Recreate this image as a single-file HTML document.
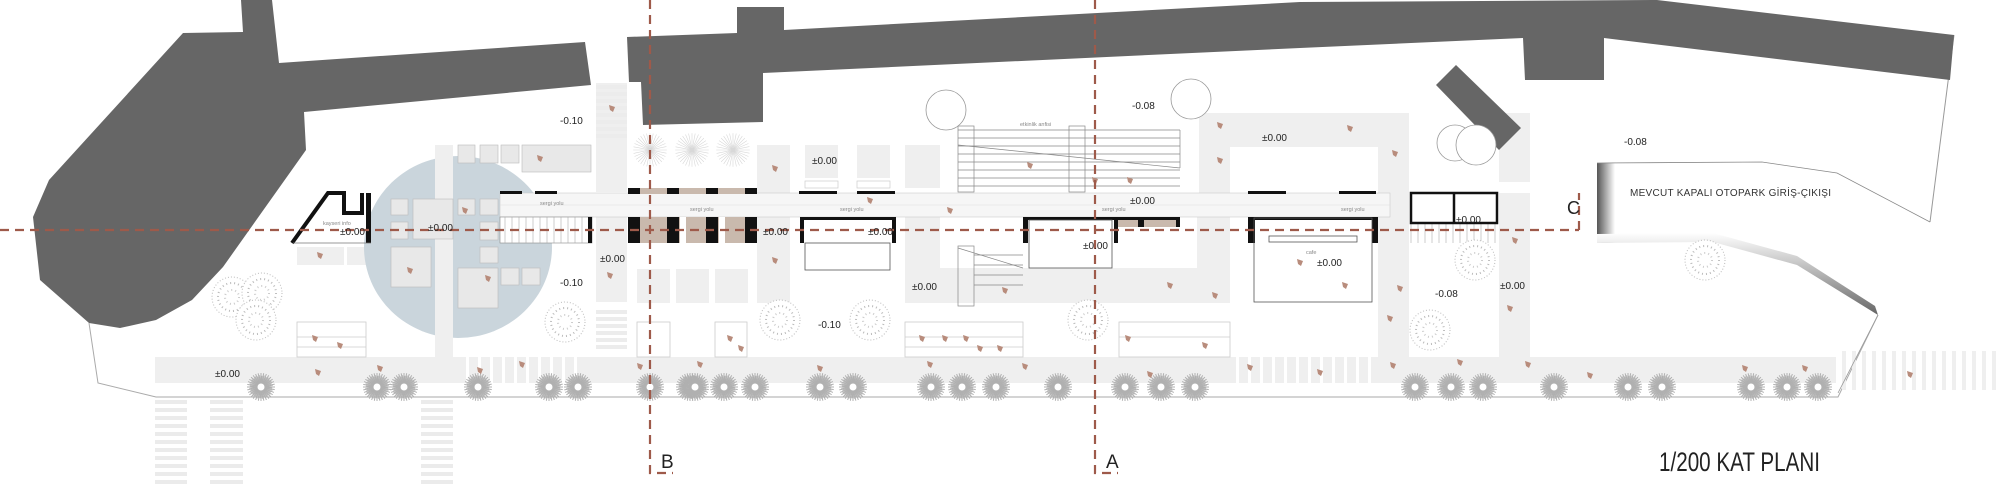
<!DOCTYPE html>
<html><head><meta charset="utf-8"><style>
html,body{margin:0;padding:0;background:#fff;}
svg{display:block;}
text{font-family:"Liberation Sans",sans-serif;}
</style></head><body>
<svg width="2000" height="493" viewBox="0 0 2000 493" xmlns="http://www.w3.org/2000/svg">
<defs>
<linearGradient id="gl" x1="0" x2="1" y1="0" y2="0"><stop offset="0" stop-color="#555"/><stop offset="1" stop-color="#fff"/></linearGradient>
<linearGradient id="gb" x1="0" x2="0" y1="0" y2="1"><stop offset="0" stop-color="#fff"/><stop offset="1" stop-color="#666"/></linearGradient>
<path id="sk" d="M-14 0L14 0M-12.9 -5.4L12.9 5.4M-9.9 -9.9L9.9 9.9M-5.4 -12.9L5.4 12.9M0 -14L0 14M5.4 -12.9L-5.4 12.9M9.9 -9.9L-9.9 9.9M12.9 -5.4L-12.9 5.4"/>
<g id="tr"><g stroke="#b0b0b0" stroke-width="1"><use href="#sk"/><use href="#sk" transform="rotate(11)"/><use href="#sk" transform="rotate(5) scale(0.8)"/><use href="#sk" transform="rotate(16) scale(0.85)"/></g><circle r="3.5" fill="#fff"/></g>
<g id="sp"><circle r="20" fill="#fff" stroke="#bbb" stroke-dasharray="1 2"/><circle r="14" fill="none" stroke="#bbb" stroke-dasharray="1 3" stroke-width="2"/><circle r="7" fill="none" stroke="#ccc" stroke-dasharray="1 3" stroke-width="2"/></g>
<g id="st"><g stroke="#d8d8d8" stroke-width="0.5"><use href="#sk" transform="scale(1.2)"/><use href="#sk" transform="rotate(11) scale(1.2)"/></g></g>
<g id="pp"><path d="M-3 -3 L3 -1 L1 4 L-2 2Z" fill="#b88c7c"/></g>
</defs>

<polyline points="89,323 98,383 156,397 1838,397 1878,315" fill="none" stroke="#aaa" stroke-width="1"/>
<polyline points="1930,222 1954,35" fill="none" stroke="#999" stroke-width="1"/>

<g fill="#efefef">
<rect x="155" y="357" width="1681" height="26"/>
<rect x="435" y="145" width="18" height="238"/>
<rect x="596" y="83" width="31" height="109"/>
<rect x="596" y="217" width="31" height="85"/>
<rect x="1199" y="113" width="210" height="34"/>
<rect x="1199" y="113" width="31" height="189"/>
<rect x="1378" y="113" width="31" height="270"/>
<rect x="905" y="217" width="325" height="86"/>
<rect x="1499" y="113" width="31" height="69"/>
<rect x="1499" y="193" width="31" height="164"/>
<rect x="297" y="247" width="47" height="18"/><rect x="347" y="247" width="37" height="18"/>
<rect x="757" y="145" width="33" height="158"/><rect x="805" y="145" width="33" height="33"/><rect x="857" y="145" width="33" height="33"/><rect x="905" y="145" width="35" height="43"/>
<rect x="637" y="269" width="33" height="34"/><rect x="676" y="269" width="33" height="34"/><rect x="715" y="269" width="33" height="34"/>
</g>
<rect x="940" y="217" width="257" height="51" fill="#fff"/>
<g fill="none" stroke="#ccc" stroke-width="0.7"><rect x="805" y="181" width="33" height="7"/><rect x="857" y="181" width="33" height="7"/></g>

<ellipse cx="458" cy="247" rx="94" ry="91" fill="#cad5dc"/>
<rect x="435" y="145" width="18" height="238" fill="#efefef"/>
<g fill="#e8e8e8" stroke="#bbb" stroke-width="0.6">
<rect x="391" y="199" width="17" height="16"/><rect x="413" y="199" width="40" height="40"/><rect x="391" y="222" width="17" height="17"/>
<rect x="458" y="199" width="17" height="16"/><rect x="480" y="199" width="18" height="16"/><rect x="480" y="222" width="18" height="18"/><rect x="480" y="247" width="18" height="16"/>
<rect x="391" y="247" width="40" height="40"/><rect x="458" y="268" width="40" height="40"/><rect x="501" y="268" width="18" height="17"/><rect x="522" y="268" width="18" height="17"/>
<rect x="458" y="145" width="17" height="18"/><rect x="480" y="145" width="18" height="18"/><rect x="501" y="145" width="18" height="18"/><rect x="522" y="145" width="69" height="27"/>
</g>

<g fill="#ececec">
<rect x="596" y="85" width="31" height="4"/><rect x="596" y="92" width="31" height="4"/><rect x="596" y="99" width="31" height="4"/><rect x="596" y="106" width="31" height="4"/><rect x="596" y="113" width="31" height="4"/><rect x="596" y="120" width="31" height="4"/><rect x="596" y="127" width="31" height="4"/><rect x="596" y="134" width="31" height="4"/>
<rect x="596" y="310" width="31" height="4"/><rect x="596" y="317" width="31" height="4"/><rect x="596" y="324" width="31" height="4"/><rect x="596" y="331" width="31" height="4"/><rect x="596" y="338" width="31" height="4"/><rect x="596" y="345" width="31" height="4"/>
</g>
<g fill="#ebebeb">
<rect x="155" y="400" width="32" height="4"/><rect x="155" y="408" width="32" height="4"/><rect x="155" y="416" width="32" height="4"/><rect x="155" y="424" width="32" height="4"/><rect x="155" y="432" width="32" height="4"/><rect x="155" y="440" width="32" height="4"/><rect x="155" y="448" width="32" height="4"/><rect x="155" y="456" width="32" height="4"/><rect x="155" y="464" width="32" height="4"/><rect x="155" y="472" width="32" height="4"/><rect x="155" y="480" width="32" height="4"/>
<rect x="210" y="400" width="33" height="4"/><rect x="210" y="408" width="33" height="4"/><rect x="210" y="416" width="33" height="4"/><rect x="210" y="424" width="33" height="4"/><rect x="210" y="432" width="33" height="4"/><rect x="210" y="440" width="33" height="4"/><rect x="210" y="448" width="33" height="4"/><rect x="210" y="456" width="33" height="4"/><rect x="210" y="464" width="33" height="4"/><rect x="210" y="472" width="33" height="4"/><rect x="210" y="480" width="33" height="4"/>
<rect x="421" y="400" width="32" height="4"/><rect x="421" y="408" width="32" height="4"/><rect x="421" y="416" width="32" height="4"/><rect x="421" y="424" width="32" height="4"/><rect x="421" y="432" width="32" height="4"/><rect x="421" y="440" width="32" height="4"/><rect x="421" y="448" width="32" height="4"/><rect x="421" y="456" width="32" height="4"/><rect x="421" y="464" width="32" height="4"/><rect x="421" y="472" width="32" height="4"/><rect x="421" y="480" width="32" height="4"/>
</g>
<g fill="#fff">
<rect x="466" y="357" width="3" height="26"/><rect x="478" y="357" width="3" height="26"/><rect x="490" y="357" width="3" height="26"/><rect x="502" y="357" width="3" height="26"/><rect x="514" y="357" width="3" height="26"/><rect x="526" y="357" width="3" height="26"/><rect x="538" y="357" width="3" height="26"/><rect x="550" y="357" width="3" height="26"/><rect x="562" y="357" width="3" height="26"/><rect x="574" y="357" width="3" height="26"/>
<rect x="1236" y="357" width="3" height="26"/><rect x="1248" y="357" width="3" height="26"/><rect x="1260" y="357" width="3" height="26"/><rect x="1272" y="357" width="3" height="26"/><rect x="1284" y="357" width="3" height="26"/><rect x="1296" y="357" width="3" height="26"/><rect x="1308" y="357" width="3" height="26"/><rect x="1320" y="357" width="3" height="26"/><rect x="1332" y="357" width="3" height="26"/><rect x="1344" y="357" width="3" height="26"/><rect x="1356" y="357" width="3" height="26"/><rect x="1368" y="357" width="3" height="26"/>
</g>
<g fill="#efefef">
<rect x="1842" y="351" width="4" height="39"/><rect x="1852" y="351" width="4" height="39"/><rect x="1862" y="351" width="4" height="39"/><rect x="1872" y="351" width="4" height="39"/><rect x="1882" y="351" width="4" height="39"/><rect x="1892" y="351" width="4" height="39"/><rect x="1902" y="351" width="4" height="39"/><rect x="1912" y="351" width="4" height="39"/><rect x="1922" y="351" width="4" height="39"/><rect x="1932" y="351" width="4" height="39"/><rect x="1942" y="351" width="4" height="39"/><rect x="1952" y="351" width="4" height="39"/><rect x="1962" y="351" width="4" height="39"/><rect x="1972" y="351" width="4" height="39"/><rect x="1982" y="351" width="4" height="39"/><rect x="1992" y="351" width="4" height="39"/>
</g>

<g fill="none" stroke="#ccc" stroke-width="0.8">
<rect x="297" y="322" width="69" height="35"/><line x1="297" y1="337" x2="366" y2="337"/><line x1="297" y1="347" x2="366" y2="347"/>
<rect x="905" y="322" width="118" height="35"/><line x1="905" y1="337" x2="1023" y2="337"/><line x1="905" y1="347" x2="1023" y2="347"/>
<rect x="1119" y="322" width="111" height="35"/><line x1="1119" y1="337" x2="1230" y2="337"/>
<rect x="715" y="322" width="32" height="35"/><rect x="637" y="322" width="33" height="35"/>
</g>

<g stroke="#888" stroke-width="0.7" fill="none">
<line x1="958" y1="130" x2="1180" y2="130"/><line x1="958" y1="138" x2="1180" y2="138"/><line x1="958" y1="146" x2="1180" y2="146"/><line x1="958" y1="154" x2="1180" y2="154"/><line x1="958" y1="162" x2="1180" y2="162"/><line x1="958" y1="170" x2="1180" y2="170"/><line x1="958" y1="178" x2="1180" y2="178"/><line x1="958" y1="186" x2="1180" y2="186"/>
<line x1="1180" y1="130" x2="1180" y2="168"/><line x1="958" y1="145" x2="1180" y2="168"/>
<rect x="958" y="126" width="16" height="66"/><rect x="1069" y="126" width="16" height="66"/>
<rect x="958" y="246" width="16" height="60"/><line x1="958" y1="248" x2="1023" y2="268"/>
<line x1="974" y1="255" x2="1023" y2="255"/><line x1="974" y1="265" x2="1023" y2="265"/><line x1="974" y1="275" x2="1023" y2="275"/><line x1="974" y1="285" x2="1023" y2="285"/>
</g>

<rect x="500" y="193" width="890" height="24" fill="#f6f6f6" stroke="#ccc" stroke-width="0.6"/>
<line x1="500" y1="205" x2="1390" y2="205" stroke="#ddd" stroke-width="0.6"/>
<rect x="500" y="217" width="92" height="26" fill="#fff" stroke="#888" stroke-width="0.6"/>
<g stroke="#aaa" stroke-width="0.6">
<line x1="505" y1="217" x2="505" y2="243"/><line x1="512" y1="217" x2="512" y2="243"/><line x1="519" y1="217" x2="519" y2="243"/><line x1="526" y1="217" x2="526" y2="243"/><line x1="533" y1="217" x2="533" y2="243"/><line x1="540" y1="217" x2="540" y2="243"/><line x1="547" y1="217" x2="547" y2="243"/><line x1="554" y1="217" x2="554" y2="243"/><line x1="561" y1="217" x2="561" y2="243"/><line x1="568" y1="217" x2="568" y2="243"/><line x1="575" y1="217" x2="575" y2="243"/><line x1="582" y1="217" x2="582" y2="243"/>
<line x1="1411" y1="223" x2="1411" y2="243"/><line x1="1418" y1="223" x2="1418" y2="243"/><line x1="1425" y1="223" x2="1425" y2="243"/><line x1="1432" y1="223" x2="1432" y2="243"/><line x1="1439" y1="223" x2="1439" y2="243"/><line x1="1446" y1="223" x2="1446" y2="243"/><line x1="1453" y1="223" x2="1453" y2="243"/><line x1="1460" y1="223" x2="1460" y2="243"/><line x1="1467" y1="223" x2="1467" y2="243"/><line x1="1474" y1="223" x2="1474" y2="243"/><line x1="1481" y1="223" x2="1481" y2="243"/><line x1="1488" y1="223" x2="1488" y2="243"/><line x1="1495" y1="223" x2="1495" y2="243"/>
</g>
<g fill="#c9b9ad">
<rect x="640" y="188" width="117" height="6"/><rect x="640" y="217" width="117" height="26"/>
<rect x="1114" y="217" width="66" height="10"/>
</g>
<g fill="#fff"><rect x="680" y="217" width="6" height="26"/><rect x="719" y="217" width="6" height="26"/></g>
<g fill="#111">
<rect x="500" y="191" width="22" height="3"/><rect x="535" y="191" width="22" height="3"/>
<rect x="588" y="217" width="4" height="26"/>
<rect x="628" y="188" width="12" height="6"/><rect x="667" y="188" width="12" height="6"/><rect x="706" y="188" width="12" height="6"/><rect x="745" y="188" width="12" height="6"/>
<rect x="628" y="217" width="12" height="26"/><rect x="667" y="217" width="12" height="26"/><rect x="706" y="217" width="12" height="26"/><rect x="745" y="217" width="12" height="26"/>
<rect x="799" y="191" width="38" height="3"/><rect x="857" y="191" width="38" height="3"/>
<rect x="800" y="217" width="96" height="3"/><rect x="800" y="217" width="4" height="26"/><rect x="892" y="217" width="4" height="26"/>
<rect x="1023" y="217" width="91" height="3"/><rect x="1023" y="217" width="5" height="26"/><rect x="1114" y="217" width="4" height="26"/>
<rect x="1114" y="217" width="66" height="3"/><rect x="1138" y="217" width="6" height="10"/><rect x="1176" y="217" width="4" height="10"/>
<rect x="1248" y="191" width="38" height="3"/><rect x="1339" y="191" width="37" height="3"/>
<rect x="1248" y="217" width="130" height="3"/><rect x="1248" y="217" width="7" height="26"/><rect x="1372" y="217" width="6" height="26"/>
</g>
<path d="M292,243 L328,193 L344,193 L344,213 L362,213 L362,193" fill="none" stroke="#111" stroke-width="4"/>
<rect x="366" y="193" width="5" height="50" fill="#111"/>
<line x1="293" y1="243" x2="371" y2="243" stroke="#777" stroke-width="0.8"/>
<g fill="none" stroke="#555" stroke-width="0.8">
<rect x="805" y="243" width="85" height="27"/>
<rect x="1029" y="220" width="83" height="48"/>
<rect x="1254" y="218" width="118" height="84"/>
<rect x="1269" y="236" width="88" height="6"/>
</g>
<rect x="1411" y="193" width="86" height="30" fill="#fff" stroke="#111" stroke-width="2.5"/>
<line x1="1454" y1="193" x2="1454" y2="223" stroke="#111" stroke-width="2.5"/>

<g fill="#666">
<polygon points="241,0 272,0 279,63 585,42 591,85 304,112 306,150 223,267 192,300 156,320 120,328 89,323 40,280 33,217 49,180 183,33 243,32"/>
<polygon points="627,37 737,33 737,7 784,7 784,30 1300,2 1657,0 1954,35 1950,80 1604,38 1604,80 1525,80 1523,38 1300,48 763,73 763,122 643,125 641,82 629,82"/>
<polygon points="1436,85 1456,65 1521,128 1499,150"/>
</g>

<rect x="1597" y="163" width="18" height="80" fill="url(#gl)"/>
<polygon points="1597,234 1713,233 1797,256 1875,306 1878,315 1797,265 1713,242 1597,243" fill="url(#gb)"/>
<polyline points="1597,163 1762,162 1837,173 1930,222" fill="none" stroke="#888" stroke-width="0.8"/>
<polyline points="1878,315 1838,393" fill="none" stroke="#999" stroke-width="0.8"/>
<text x="1630" y="196" font-size="10" fill="#333" textLength="201">MEVCUT KAPALI OTOPARK GİRİŞ-ÇIKIŞI</text>

<use href="#sp" x="232" y="297"/><use href="#sp" x="262" y="293"/><use href="#sp" x="256" y="320"/><use href="#sp" x="565" y="322"/>
<use href="#sp" x="780" y="320"/><use href="#sp" x="870" y="320"/><use href="#sp" x="1088" y="320"/><use href="#sp" x="1475" y="260"/><use href="#sp" x="1430" y="330"/><use href="#sp" x="1705" y="260"/>
<g fill="#fff" stroke="#999" stroke-width="0.8"><circle cx="946" cy="110" r="20"/><circle cx="1191" cy="99" r="20"/><circle cx="1455" cy="143" r="18"/><circle cx="1476" cy="145" r="20"/></g>
<use href="#st" x="650" y="150"/><use href="#st" x="692" y="150"/><use href="#st" x="733" y="150"/>
<use href="#tr" x="261" y="387"/><use href="#tr" x="377" y="387"/><use href="#tr" x="404" y="387"/><use href="#tr" x="478" y="387"/><use href="#tr" x="549" y="387"/><use href="#tr" x="578" y="387"/><use href="#tr" x="650" y="387"/><use href="#tr" x="690" y="387"/>
<use href="#tr" x="695" y="387"/><use href="#tr" x="724" y="387"/><use href="#tr" x="755" y="387"/><use href="#tr" x="820" y="387"/><use href="#tr" x="853" y="387"/><use href="#tr" x="931" y="387"/><use href="#tr" x="962" y="387"/><use href="#tr" x="996" y="387"/><use href="#tr" x="1058" y="387"/><use href="#tr" x="1125" y="387"/><use href="#tr" x="1161" y="387"/><use href="#tr" x="1195" y="387"/>
<use href="#tr" x="1415" y="387"/><use href="#tr" x="1451" y="387"/><use href="#tr" x="1483" y="387"/><use href="#tr" x="1554" y="387"/><use href="#tr" x="1628" y="387"/><use href="#tr" x="1662" y="387"/><use href="#tr" x="1751" y="387"/><use href="#tr" x="1787" y="387"/><use href="#tr" x="1818" y="387"/>

<g>
<use href="#pp" x="465" y="210"/><use href="#pp" x="410" y="270"/><use href="#pp" x="320" y="255"/><use href="#pp" x="488" y="278"/><use href="#pp" x="540" y="158"/><use href="#pp" x="610" y="275"/><use href="#pp" x="612" y="108"/><use href="#pp" x="315" y="338"/><use href="#pp" x="340" y="345"/><use href="#pp" x="318" y="372"/><use href="#pp" x="380" y="368"/><use href="#pp" x="480" y="370"/><use href="#pp" x="522" y="364"/><use href="#pp" x="640" y="366"/>
<use href="#pp" x="775" y="168"/><use href="#pp" x="775" y="260"/><use href="#pp" x="870" y="200"/><use href="#pp" x="950" y="210"/><use href="#pp" x="1030" y="165"/><use href="#pp" x="1095" y="180"/><use href="#pp" x="1005" y="290"/><use href="#pp" x="1130" y="180"/><use href="#pp" x="1220" y="125"/><use href="#pp" x="1220" y="160"/><use href="#pp" x="1170" y="285"/><use href="#pp" x="1215" y="295"/>
<use href="#pp" x="922" y="338"/><use href="#pp" x="945" y="338"/><use href="#pp" x="966" y="338"/><use href="#pp" x="980" y="348"/><use href="#pp" x="1000" y="348"/><use href="#pp" x="1128" y="338"/><use href="#pp" x="1205" y="345"/><use href="#pp" x="730" y="338"/><use href="#pp" x="741" y="348"/>
<use href="#pp" x="700" y="364"/><use href="#pp" x="820" y="368"/><use href="#pp" x="930" y="364"/><use href="#pp" x="1025" y="366"/><use href="#pp" x="1150" y="374"/><use href="#pp" x="1250" y="367"/><use href="#pp" x="1320" y="372"/><use href="#pp" x="1393" y="365"/><use href="#pp" x="1460" y="362"/><use href="#pp" x="1528" y="364"/><use href="#pp" x="1590" y="375"/><use href="#pp" x="1745" y="368"/><use href="#pp" x="1805" y="368"/><use href="#pp" x="1910" y="374"/>
<use href="#pp" x="1350" y="128"/><use href="#pp" x="1395" y="153"/><use href="#pp" x="1400" y="288"/><use href="#pp" x="1390" y="318"/><use href="#pp" x="1515" y="240"/><use href="#pp" x="1510" y="308"/><use href="#pp" x="1345" y="285"/><use href="#pp" x="1300" y="262"/>
</g>

<g stroke="#9e5a4a" stroke-width="2.2" stroke-dasharray="9 6" fill="none">
<line x1="0" y1="230" x2="1579" y2="230"/>
<line x1="1579" y1="230" x2="1579" y2="193"/>
<polyline points="650,0 650,473 673,473"/>
<polyline points="1095,0 1095,473 1118,473"/>
</g>

<g fill="#222" font-size="10">
<text x="560" y="124">-0.10</text><text x="560" y="286">-0.10</text>
<text x="600" y="262">±0.00</text><text x="428" y="231">±0.00</text><text x="340" y="235">±0.00</text><text x="215" y="377">±0.00</text>
<text x="812" y="164">±0.00</text><text x="763" y="235">±0.00</text><text x="868" y="235">±0.00</text>
<text x="1132" y="109">-0.08</text><text x="1130" y="204">±0.00</text><text x="1083" y="249">±0.00</text>
<text x="912" y="290">±0.00</text><text x="818" y="328">-0.10</text>
<text x="1262" y="141">±0.00</text><text x="1317" y="266">±0.00</text>
<text x="1456" y="223">±0.00</text><text x="1435" y="297">-0.08</text><text x="1500" y="289">±0.00</text><text x="1624" y="145">-0.08</text>
</g>
<g fill="#888" font-size="5.5">
<text x="540" y="205">sergi yolu</text><text x="690" y="211">sergi yolu</text><text x="840" y="211">sergi yolu</text><text x="1102" y="211">sergi yolu</text><text x="1341" y="211">sergi yolu</text>
<text x="1020" y="126">etkinlik anfisi</text><text x="1306" y="254">cafe</text><text x="323" y="225">kayseri info</text>
</g>
<text x="1567" y="214" font-size="18" fill="#222">C</text>
<text x="661" y="468" font-size="19" fill="#222">B</text>
<text x="1106" y="468" font-size="19" fill="#222">A</text>
<text x="1659" y="471" font-size="27" fill="#222" textLength="161" lengthAdjust="spacingAndGlyphs">1/200 KAT PLANI</text>
</svg>
</body></html>
